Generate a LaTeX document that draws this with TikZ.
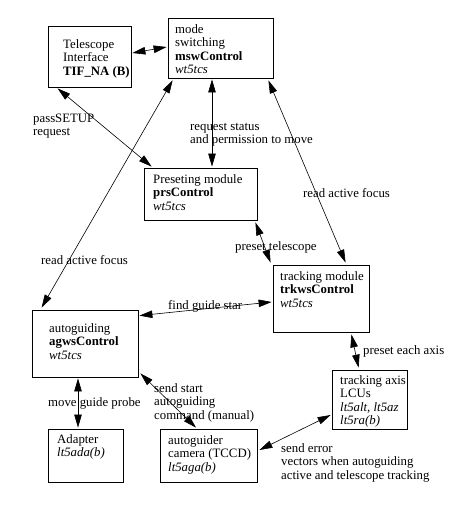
\documentclass[tikz,border=0pt]{standalone}
\usepackage{fontspec}
\setmainfont{Liberation Serif}
\usetikzlibrary{arrows.meta,calc}
\newcommand\tl[1]{\begin{tabular}[t]{@{}l@{}}#1\end{tabular}}
\begin{document}
\begin{tikzpicture}[x=1pt,y=-1pt,
  box/.style={draw,line width=0.8pt,inner sep=0pt},
  txt/.style={anchor=base west,inner sep=0pt,font=\fontsize{12.8}{13.5}\selectfont},
  conn/.style={line width=0.6pt,{Triangle[length=13pt,width=7.5pt]}-{Triangle[length=13pt,width=7.5pt]}}]
\useasboundingbox (0,0) rectangle (466,520);
% boxes
\node[box,minimum width=83pt,minimum height=61pt] (tif) at (89.5,56.5) {};
\node[box,minimum width=105pt,minimum height=60pt] (msw) at (220.5,48) {};
\node[box,minimum width=113pt,minimum height=52pt] (prs) at (200.5,194) {};
\node[box,minimum width=96pt,minimum height=67pt] (trk) at (321,298.5) {};
\node[box,minimum width=106pt,minimum height=67pt] (agw) at (85,343.5) {};
\node[box,minimum width=75pt,minimum height=59pt] (lcu) at (369.5,399.5) {};
\node[box,minimum width=75pt,minimum height=53pt] (ada) at (85.5,455.5) {};
\node[box,minimum width=97pt,minimum height=53pt] (ccd) at (208.5,455.5) {};
% box texts
\node[txt] (tiftxt) at (63,48) {\tl{Telescope\\Interface\\\textbf{TIF\_NA (B)}}};
\node[txt] (mswtxt) at (175,33) {\tl{mode\\switching\\\textbf{mswControl}\\\textit{wt5tcs}}};
\node[txt] (prstxt) at (153,183) {\tl{Preseting module\\\textbf{prsControl}\\\textit{wt5tcs}}};
\node[txt] (trktxt) at (280,280) {\tl{tracking module\\\textbf{trkwsControl}\\\textit{wt5tcs}}};
\node[txt] (agwtxt) at (49,332) {\tl{autoguiding\\\textbf{agwsControl}\\\textit{wt5tcs}}};
\node[txt] (lcutxt) at (340,384) {\tl{tracking axis\\LCUs\\\textit{lt5alt, lt5az}\\\textit{lt5ra(b)}}};
\node[txt] (adatxt) at (57,443) {\tl{Adapter\\\textit{lt5ada(b)}}};
\node[txt] (ccdtxt) at (168,444) {\tl{autoguider\\camera (TCCD)\\\textit{lt5aga(b)}}};
% connectors
\draw[conn] ($(tif.east)+(1,-3.5)$) -- ($(msw.west)+(-1,-1)$);
\draw[conn] ($(tif.south west)+(10,1)$) -- ($(prs.north west)+(8,-1)$);
\draw[conn] ($(msw.south)+(-8.5,1)$) -- ($(prs.north)+(11.5,-1)$);
\draw[conn] ($(msw.south west)+(5,2)$) -- ($(agw.north west)+(10,-2)$);
\draw[conn] ($(msw.south east)+(-5,2)$) -- ($(trk.north west)+(73,-2)$);
\draw[conn] ($(prs.south east)+(-2,2)$) -- ($(trk.north west)+(-2,-2)$);
\draw[conn] ($(trk.west)+(-1,3.5)$) -- ($(agw.north east)+(1,6)$);
\draw[conn] ($(trk.south east)+(-18,2)$) -- ($(lcu.north west)+(27,-2)$);
\draw[conn] ($(agw.south)+(-7,1)$) -- ($(ada.north)+(-7.5,-1)$);
\draw[conn] ($(agw.south east)+(2,-4)$) -- ($(ccd.north)+(-12.5,-1)$);
\draw[conn] ($(lcu.west)+(-1,15.5)$) -- ($(ccd.east)+(2,-5.5)$);
% connector labels
\node[txt] (l1) at (33,122) {\tl{passSETUP\\request}};
\node[txt] (l2) at (190,130) {\tl{request status\\and permission to move}};
\node[txt] (l3) at (303,197) {read active focus};
\node[txt] (l4) at (41,264) {read active focus};
\node[txt] (l5) at (235,250) {preset telescope};
\node[txt] (l6) at (168,309) {find guide star};
\node[txt] (l7) at (363,354) {preset each axis};
\node[txt] (l8) at (48,406) {move guide probe};
\node[txt] (l9) at (154,392) {\tl{send start\\autoguiding\\command (manual)}};
\node[txt] (l10) at (281,452) {\tl{send error\\vectors when autoguiding\\active and telescope tracking}};
\end{tikzpicture}
\end{document}
